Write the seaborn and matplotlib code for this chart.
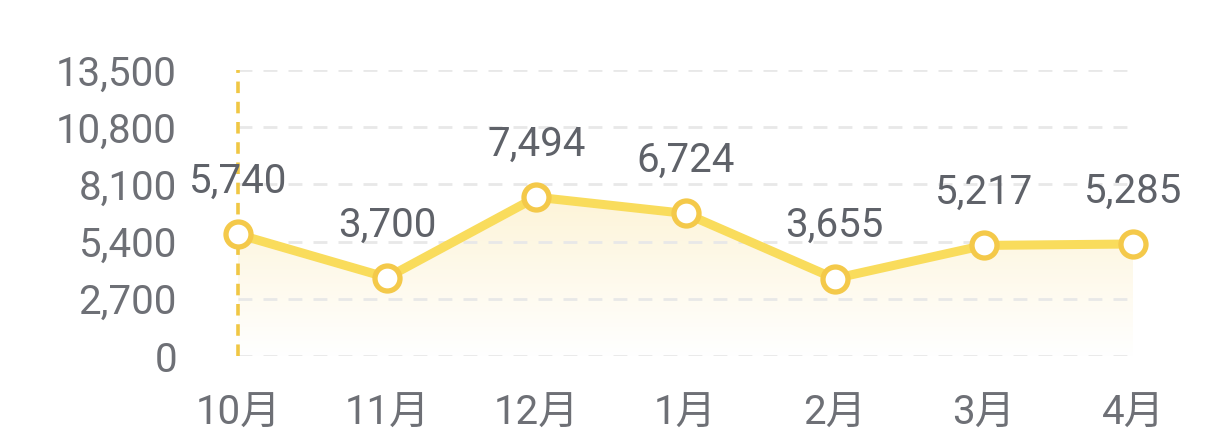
import matplotlib
matplotlib.use("Agg")
import matplotlib.pyplot as plt
import seaborn as sns
import numpy as np
import pandas as pd
from matplotlib.colors import LinearSegmentedColormap

meses = ["10月", "11月", "12月", "1月", "2月", "3月", "4月"]
valores = [5740, 3700, 7494, 6724, 3655, 5217, 5285]
ticks_y = [0, 2700, 5400, 8100, 10800, 13500]

df = pd.DataFrame({"pos": range(len(meses)), "mes": meses, "valor": valores})

sns.set_theme(style="white")
plt.rcParams["font.family"] = ["Roboto", "Noto Sans CJK SC", "DejaVu Sans"]

color_linea = "#F9DC5C"
color_marca = "#F4C94A"
color_texto = "#5F6269"
color_ticks = "#6E7076"

fig = plt.figure(figsize=(12.24, 4.45), dpi=100)
ax = fig.add_axes([238 / 1224, 0.2, (1133 - 238) / 1224, 0.643])

# relleno degradado bajo la linea
relleno = ax.fill_between(df["pos"], df["valor"], 0, color="none", lw=0)
cmap_relleno = LinearSegmentedColormap.from_list("relleno", ["#FFFFFF", "#FDF4D8"])
grad = np.linspace(0, 1, 256).reshape(-1, 1)
img = ax.imshow(grad, cmap=cmap_relleno, aspect="auto", origin="lower",
                extent=[0, len(meses) - 1, 0, max(valores)], zorder=0.2)
img.set_clip_path(relleno.get_paths()[0], transform=ax.transData)

# linea vertical discontinua en el primer mes
ax.axvline(0, color="#F0C744", lw=2.6, ls=(0, (3.2, 2.4)), zorder=3, clip_on=False)

sns.lineplot(data=df, x="pos", y="valor", ax=ax, color=color_linea, linewidth=6.5,
             marker="o", markersize=18, markerfacecolor="white",
             markeredgecolor=color_marca, markeredgewidth=3.8, zorder=4)
for linea in ax.lines:
    linea.set_clip_on(False)

for x, v in zip(df["pos"], df["valor"]):
    ax.annotate(f"{v:,}", (x, v), xytext=(0, 38), textcoords="offset points",
                ha="center", va="center", fontsize=29, color=color_texto, zorder=5)

ax.set_xlim(0, len(meses) - 1)
ax.set_ylim(0, 13500)
ax.set_yticks(ticks_y)
ax.set_yticklabels([f"{t:,}" for t in ticks_y])
ax.set_xticks(df["pos"])
ax.set_xticklabels(meses)
ax.tick_params(axis="y", length=0, pad=44, labelsize=29, labelcolor=color_ticks)
ax.tick_params(axis="x", length=0, pad=27, labelsize=29, labelcolor=color_ticks)
ax.yaxis.grid(True, color="#E8E8E8", lw=2, ls=(0, (5, 4)), zorder=0.5)
ax.xaxis.grid(False)
ax.set_axisbelow(True)
ax.set_xlabel("")
ax.set_ylabel("")
sns.despine(ax=ax, left=True, bottom=True)

fig.savefig("out.png", dpi=100)
